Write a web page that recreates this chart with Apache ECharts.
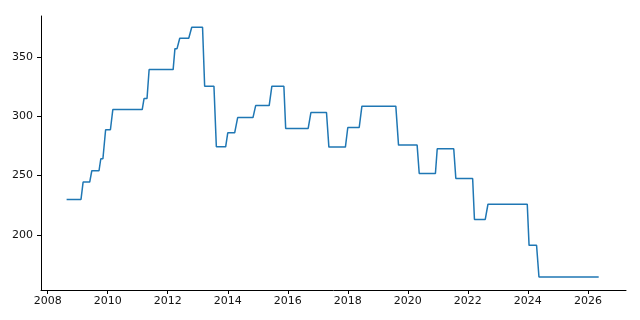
<!DOCTYPE html>
<html>
<head>
<meta charset="utf-8">
<script src="https://cdn.jsdelivr.net/npm/echarts@6/dist/echarts.min.js"></script>
<style>html,body{margin:0;padding:0;background:#fff;}#c{width:640px;height:320px;}</style>
</head>
<body>
<div id="c"></div>
<script>
// Each level: start year, end year, value
const levelStart = [2008.63, 2009.18, 2009.47, 2009.77, 2009.93, 2010.17, 2011.21, 2011.38, 2012.24, 2012.40, 2012.80, 2013.23, 2013.62, 2014.00, 2014.33, 2014.93, 2015.47, 2015.93, 2016.77, 2017.37, 2018.00, 2018.47, 2019.69, 2020.38, 2020.98, 2021.60, 2022.22, 2022.67, 2024.04, 2024.37];
const levelEnd   = [2009.11, 2009.40, 2009.71, 2009.84, 2010.09, 2011.15, 2011.31, 2012.18, 2012.31, 2012.70, 2013.16, 2013.54, 2013.93, 2014.23, 2014.84, 2015.38, 2015.87, 2016.68, 2017.29, 2017.92, 2018.38, 2019.60, 2020.31, 2020.92, 2021.53, 2022.16, 2022.58, 2023.98, 2024.29, 2026.36];
const levelValue = [230.0, 244.6, 254.1, 264.2, 288.6, 305.6, 314.9, 339.3, 356.9, 365.7, 374.9, 325.3, 274.3, 286.0, 298.9, 309.0, 325.3, 289.7, 303.1, 274.0, 290.5, 308.5, 275.7, 251.8, 272.6, 247.6, 213.1, 225.9, 191.3, 164.7];
const xTicks = [2008, 2010, 2012, 2014, 2016, 2018, 2020, 2022, 2024, 2026];
const yTicks = [200, 250, 300, 350];

const points = [];
for (let i = 0; i < levelValue.length; i++) {
  points.push([levelStart[i], levelValue[i]]);
  points.push([levelEnd[i], levelValue[i]]);
}

const font = 'DejaVu Sans';
const chart = echarts.init(document.getElementById('c'), null, {renderer: 'canvas'});
chart.setOption({
  animation: false,
  grid: {left: 41, top: 16, right: 14, bottom: 30, containLabel: false},
  xAxis: {
    type: 'value', min: 2007.777, max: 2027.27,
    axisLine: {show: true, lineStyle: {color: '#000', width: 1}},
    axisTick: {show: true, length: 4, inside: false, customValues: xTicks, lineStyle: {color: '#000', width: 1}},
    axisLabel: {customValues: xTicks, fontFamily: font, fontSize: 11, color: '#111', margin: 6, formatter: v => String(v)},
    splitLine: {show: false}
  },
  yAxis: {
    type: 'value', min: 153.7, max: 384.4,
    axisLine: {show: true, lineStyle: {color: '#000', width: 1}},
    axisTick: {show: true, length: 4, inside: false, customValues: yTicks, lineStyle: {color: '#000', width: 1}},
    axisLabel: {customValues: yTicks, fontFamily: font, fontSize: 11, color: '#111', margin: 8, formatter: v => String(v)},
    splitLine: {show: false}
  },
  series: [{
    type: 'line', data: points, showSymbol: false, symbol: 'none',
    lineStyle: {color: '#1f77b4', width: 1.5}
  }]
});
</script>
</body>
</html>
